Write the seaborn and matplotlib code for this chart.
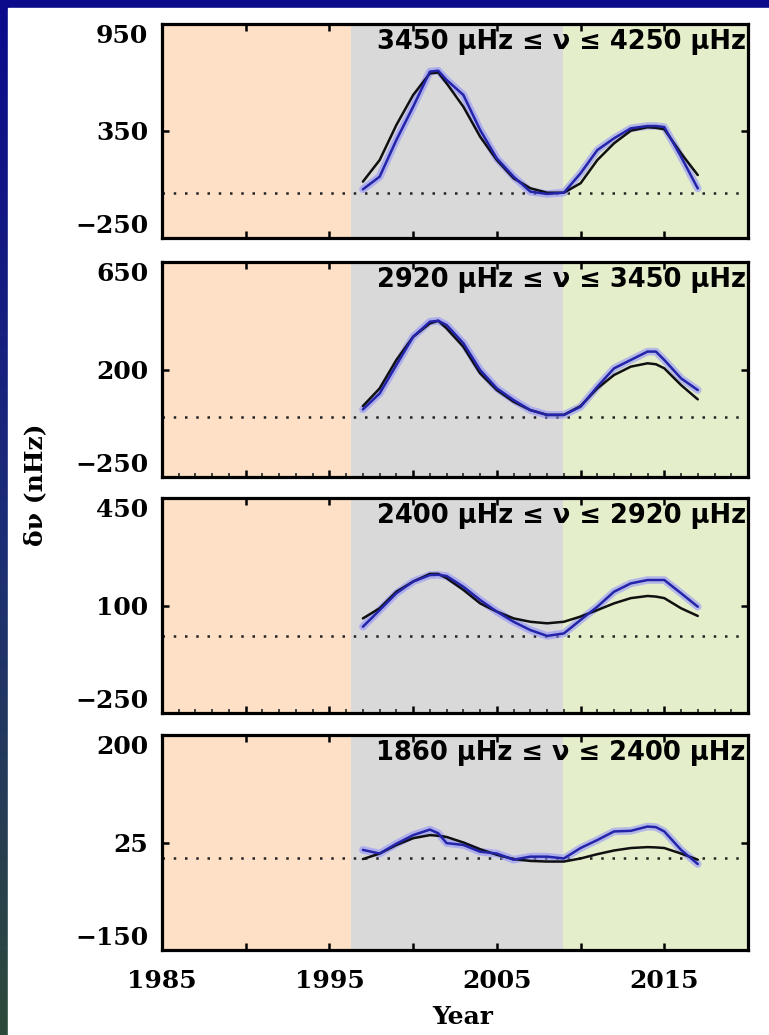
import numpy as np
import matplotlib
matplotlib.use('Agg')
import matplotlib.pyplot as plt
from matplotlib.colors import LinearSegmentedColormap
from matplotlib.patches import Rectangle
from matplotlib.ticker import FixedLocator, MultipleLocator
import seaborn as sns

# years of the smoothed frequency shifts
years = [1997, 1998, 1999, 2000, 2001, 2001.5, 2002, 2003, 2004, 2005, 2006, 2007,
         2008, 2009, 2010, 2011, 2012, 2013, 2014, 2014.5, 2015, 2016, 2017]

# black = proxy fit, blue = measured shifts (nHz)
black_1 = [66, 187, 384, 552, 673, 678, 617, 486, 318, 187, 85, 29, 4, 4, 57, 187, 281, 352, 371, 368, 360, 225, 103]
blue_1 = [23, 94, 300, 486, 683, 688, 636, 552, 356, 196, 94, 10, -3, 4, 113, 243, 309, 365, 378, 378, 372, 206, 28]
black_2 = [47, 121, 240, 337, 393, 404, 372, 295, 184, 114, 65, 30, 10, 10, 47, 121, 177, 212, 226, 222, 205, 135, 75]
blue_2 = [33, 100, 219, 337, 400, 404, 386, 310, 198, 121, 72, 30, 10, 10, 44, 128, 205, 240, 275, 275, 240, 163, 114]
black_3 = [58, 91, 145, 178, 203, 203, 189, 151, 107, 80, 58, 47, 42, 47, 64, 85, 107, 124, 131, 129, 124, 91, 66]
blue_3 = [31, 85, 140, 178, 199, 200, 196, 161, 118, 80, 47, 20, 1, 9, 53, 96, 145, 172, 183, 183, 183, 140, 96]
black_4 = [-2, 7, 21, 32, 37, 36, 34, 25, 14, 5, -2, -5, -6, -6, -1, 6, 12, 16, 17.5, 17, 16, 7, -3]
blue_4 = [13, 7, 23, 37, 46, 40, 24, 21, 10, 7, -3, 2, 2, -1, 16, 29, 43, 44, 51, 50, 43, 13, -10]

band_labels = ['3450 μHz ≤ ν ≤ 4250 μHz', '2920 μHz ≤ ν ≤ 3450 μHz',
               '2400 μHz ≤ ν ≤ 2920 μHz', '1860 μHz ≤ ν ≤ 2400 μHz']
y_ticks = [[-250, 350, 950], [-250, 200, 650], [-250, 100, 450], [-150, 25, 200]]

# solar cycles 22, 23, 24
cycle_edges = [1985, 1996.3, 2008.95, 2020]
cycle_colors = ['#fde0c5', '#d9d9d9', '#e5eecb']

x_ticks = [1985, 1990, 1995, 2000, 2005, 2010, 2015, 2020]
x_tick_labels = ['1985', '', '1995', '', '2005', '', '2015', '']

blacks = [black_1, black_2, black_3, black_4]
blues = [blue_1, blue_2, blue_3, blue_4]

sns.set_style('ticks')
plt.rcParams['font.family'] = ['DejaVu Sans']
plt.rcParams['text.color'] = 'black'

W, H = 769, 1035
fig = plt.figure(figsize=(W / 100, H / 100), dpi=100)

# slide background: blue -> green gradient, white card on top
bg = fig.add_axes([0, 0, 1, 1], zorder=-10)
cmap = LinearSegmentedColormap.from_list('slide', ['#0b0b8c', '#1b2c78', '#2c4a3a'])
bg.imshow(np.linspace(0, 1, 256)[:, None], aspect='auto', cmap=cmap, extent=[0, 1, 0, 1])
bg.add_patch(Rectangle((8 / W, 0), 1, 1 - 8 / H, color='white', transform=bg.transAxes))
bg.set_xlim(0, 1)
bg.set_ylim(0, 1)
bg.axis('off')

tick_font = dict(family='DejaVu Serif', weight='bold', size=18)
left, width = 162 / W, 586 / W
tops = [24, 262, 498, 735]
bottoms = [238, 477, 713, 950]

for i in range(4):
    ax = fig.add_axes([left, 1 - bottoms[i] / H, width, (bottoms[i] - tops[i]) / H])
    for k in range(3):
        ax.axvspan(cycle_edges[k], cycle_edges[k + 1], color=cycle_colors[k], lw=0, zorder=0)
    ax.axhline(0, color='#222222', ls=(0, (1, 3.5)), lw=1.8, zorder=1)
    sns.lineplot(x=years, y=blues[i], color='#8c8cff', lw=5.5, alpha=0.55, ax=ax, zorder=2)
    sns.lineplot(x=years, y=blacks[i], color='#101010', lw=1.8, ax=ax, zorder=3)
    sns.lineplot(x=years, y=blues[i], color='#2424a8', lw=1.8, ax=ax, zorder=4)

    ax.set_xlim(1985, 2020)
    ax.set_ylim(y_ticks[i][0], y_ticks[i][-1])
    ax.yaxis.set_major_locator(FixedLocator(y_ticks[i]))
    labs = ax.set_yticklabels([str(t).replace('-', '\u2212') for t in y_ticks[i]], fontdict=tick_font)
    labs[0].set_va('bottom')
    labs[-1].set_va('top')
    ax.xaxis.set_major_locator(FixedLocator(x_ticks))
    if i == 3:
        ax.set_xticklabels(x_tick_labels, fontdict=tick_font)
    else:
        ax.set_xticklabels([])
    if i in (1, 2):
        ax.xaxis.set_minor_locator(MultipleLocator(1))
        ax.tick_params(axis='x', which='minor', direction='in', bottom=True, top=False,
                       length=3, width=1.2)
    ax.tick_params(which='major', direction='in', top=True, right=True,
                   length=5, width=1.8, colors='black')
    ax.tick_params(axis='y', pad=10)
    ax.tick_params(axis='x', pad=14)
    for s in ax.spines.values():
        s.set_linewidth(2.3)
        s.set_color('black')
    ax.set_xlabel('')
    ax.set_ylabel('')
    ax.text(0.996, 0.975, band_labels[i], transform=ax.transAxes, ha='right', va='top',
            fontsize=18.5, fontweight='bold', color='black', zorder=6)

fig.text(35 / W, 1 - 485 / H, 'δν (nHz)', rotation=90, ha='center', va='center',
         family='DejaVu Serif', weight='bold', fontsize=18, color='black')
fig.text(463 / W, 1 - 1017 / H, 'Year', ha='center', va='center',
         family='DejaVu Serif', weight='bold', fontsize=18, color='black')

fig.savefig('out.png', dpi=100)
